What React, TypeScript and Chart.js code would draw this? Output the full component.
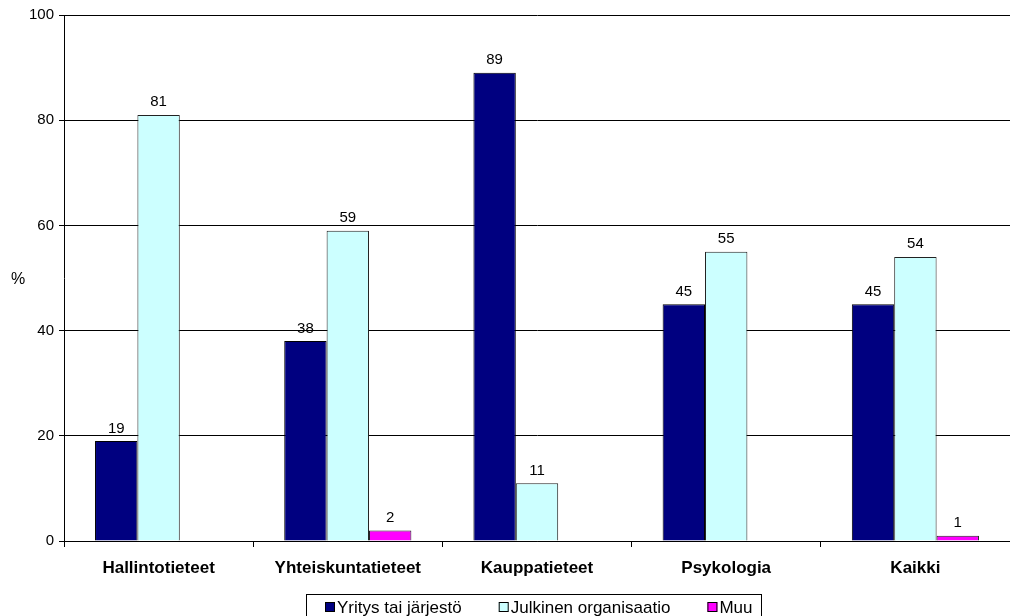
import React, { useEffect, useRef } from "react";
import { Chart, registerables } from "chart.js";

Chart.register(...registerables);

const categories = ["Hallintotieteet", "Yhteiskuntatieteet", "Kauppatieteet", "Psykologia", "Kaikki"];
const seriesNames = ["Yritys tai järjestö", "Julkinen organisaatio", "Muu"];
const yritys = [19, 38, 89, 45, 45];
const julkinen = [81, 59, 11, 55, 54];
const muu = [0, 2, 0, 0, 1];
const yMax = 100;
const yStep = 20;

const FONT = 'Arial, "Liberation Sans", sans-serif';

// Value labels above each non-zero bar
const barValueLabels = {
  id: "barValueLabels",
  afterDatasetsDraw(chart: any) {
    const ctx = chart.ctx;
    ctx.save();
    ctx.font = `15px ${FONT}`;
    ctx.fillStyle = "#000";
    ctx.textAlign = "center";
    ctx.textBaseline = "alphabetic";
    chart.data.datasets.forEach((ds: any, di: number) => {
      const meta = chart.getDatasetMeta(di);
      meta.data.forEach((bar: any, i: number) => {
        const v = ds.data[i];
        if (!v) return;
        ctx.fillText(String(v), bar.x, bar.y - 8.5);
      });
    });
    ctx.restore();
  },
};

// Horizontal "%" title beside the value axis
const axisUnit = {
  id: "axisUnit",
  afterDraw(chart: any) {
    const { ctx, chartArea } = chart;
    ctx.save();
    ctx.font = `16px ${FONT}`;
    ctx.fillStyle = "#000";
    ctx.textAlign = "center";
    ctx.textBaseline = "middle";
    ctx.fillText("%", 18, (chartArea.top + chartArea.bottom) / 2 + 2);
    ctx.restore();
  },
};

// Boxed legend under the category axis
const boxedLegend = {
  id: "boxedLegend",
  afterDraw(chart: any) {
    const ctx = chart.ctx;
    ctx.save();
    ctx.font = `17px ${FONT}`;
    const boxLeft = 306.5;
    const boxTop = 594.5;
    const sq = 10;
    const textGap = 2;
    const itemGap = 37;
    let x = boxLeft + 18.5;
    chart.data.datasets.forEach((ds: any, i: number) => {
      ctx.fillStyle = ds.backgroundColor;
      ctx.fillRect(x, 602, sq, sq);
      ctx.strokeStyle = "#000";
      ctx.lineWidth = 1;
      ctx.strokeRect(x + 0.5, 602.5, sq - 1, sq - 1);
      ctx.fillStyle = "#000";
      ctx.textAlign = "left";
      ctx.textBaseline = "alphabetic";
      const tx = x + sq + textGap;
      ctx.fillText(ds.label, tx, 613);
      const w = ctx.measureText(ds.label).width;
      x = tx + w + (i < chart.data.datasets.length - 1 ? itemGap : 0);
    });
    const boxRight = Math.round(x + 9) + 0.5;
    ctx.strokeStyle = "#000";
    ctx.lineWidth = 1;
    ctx.strokeRect(boxLeft, boxTop, boxRight - boxLeft, 40);
    ctx.restore();
  },
};

export default function App() {
  const ref = useRef<HTMLCanvasElement>(null);

  useEffect(() => {
    if (!ref.current) return;
    const chart = new Chart(ref.current, {
      type: "bar",
      data: {
        labels: categories,
        datasets: [
          { label: seriesNames[0], data: yritys, backgroundColor: "#000080", borderColor: "#000000", borderWidth: 1 },
          { label: seriesNames[1], data: julkinen, backgroundColor: "#CCFFFF", borderColor: "#222222", borderWidth: 1 },
          { label: seriesNames[2], data: muu, backgroundColor: "#FF00FF", borderColor: "#222222", borderWidth: 1 },
        ],
      },
      options: {
        responsive: false,
        animation: false,
        devicePixelRatio: 1,
        layout: { padding: { top: 15, left: 0, right: 0, bottom: 0 } },
        datasets: {
          bar: { categoryPercentage: 0.672, barPercentage: 1 },
        },
        plugins: {
          legend: { display: false },
          tooltip: { enabled: false },
          title: { display: false },
        },
        scales: {
          x: {
            afterFit: (s: any) => {
              s.height = 75;
            },
            grid: {
              offset: true,
              drawOnChartArea: false,
              drawTicks: true,
              tickLength: 6,
              color: "#000",
              tickColor: "#000",
            },
            border: { display: true, color: "#000" },
            ticks: {
              color: "#000",
              padding: 11,
              font: { family: FONT, size: 17, weight: "bold" },
              maxRotation: 0,
              autoSkip: false,
            },
          },
          y: {
            min: 0,
            max: yMax,
            afterFit: (s: any) => {
              s.width = 64;
            },
            grid: {
              color: "#000",
              tickColor: "#000",
              drawTicks: true,
              tickLength: 5,
            },
            border: { display: true, color: "#000" },
            ticks: {
              stepSize: yStep,
              color: "#000",
              padding: 5,
              font: { family: FONT, size: 15 },
            },
          },
        },
      },
      plugins: [barValueLabels, axisUnit, boxedLegend],
    });
    return () => chart.destroy();
  }, []);

  return (
    <div style={{ position: "absolute", left: 0, top: 0, width: 1010, height: 616, background: "#fff" }}>
      <canvas ref={ref} width={1010} height={616} style={{ display: "block" }} />
    </div>
  );
}
